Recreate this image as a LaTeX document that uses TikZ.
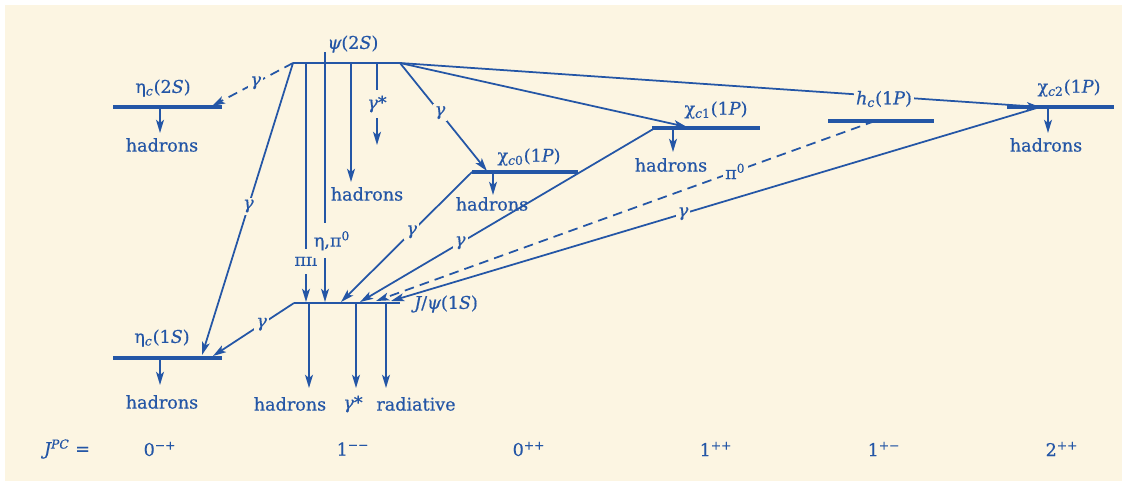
\documentclass[tikz,border=0pt]{standalone}
\usepackage{fontspec}
\setmainfont{DejaVu Serif}[FakeBold=0.5]
\usetikzlibrary{arrows.meta}
\definecolor{bg}{RGB}{252,245,226}
\definecolor{ink}{RGB}{36,86,166}
\newcommand\isub[1]{\textsubscript{#1}}
\newcommand\isup[1]{\textsuperscript{#1}}
\begin{document}
\begin{tikzpicture}[x=0.02cm,y=-0.02cm,
  every node/.style={text=ink, font=\fontsize{10}{12}\selectfont},
  lvl/.style={draw=ink, line width=1.9pt},
  conn/.style={draw=ink, line width=1pt, -{Stealth[length=7.5pt,width=4.5pt,inset=1.8pt]}},
  dsh/.style={conn, dash pattern=on 5.5pt off 3.5pt},
  lab/.style={fill=bg, inner sep=1.2pt},
]
\useasboundingbox (0,0) rectangle (1122,481);
\fill[white] (0,0) rectangle (1122,481);
\fill[bg] (5,5) rectangle (1122,481);

% level coordinates
\coordinate (e2L) at (113,107); \coordinate (e2R) at (222,107);
\coordinate (p2L) at (293,63);  \coordinate (p2R) at (400,63);
\coordinate (e1L) at (113,358); \coordinate (e1R) at (222,358);
\coordinate (jL) at (294,303);  \coordinate (jR) at (400,303);
\coordinate (c0L) at (472,172); \coordinate (c0R) at (578,172);
\coordinate (c1L) at (652,128); \coordinate (c1R) at (760,128);
\coordinate (hL) at (828,121);  \coordinate (hR) at (934,121);
\coordinate (c2L) at (1007,107);\coordinate (c2R) at (1114,107);

% levels
\draw[lvl] (e2L) -- (e2R);
\draw[lvl, line width=1.6pt] (p2L) -- (p2R);
\draw[lvl] (e1L) -- (e1R);
\draw[lvl, line width=1.6pt] (jL) -- (jR);
\draw[lvl] (c0L) -- (c0R);
\draw[lvl] (c1L) -- (c1R);
\draw[lvl] (hL) -- (hR);
\draw[lvl] (c2L) -- (c2R);

% connector end points
\coordinate (tE2) at (212,106);
\coordinate (tE1a) at (202,355);
\coordinate (tE1b) at (213,356);
\coordinate (tC0) at (487,171);
\coordinate (tC1) at (687,127);
\coordinate (tC2) at (1040,107);
\coordinate (sC1) at (655,128);
\coordinate (sH) at (875,121);
\coordinate (tJa) at (341,302);
\coordinate (tJb) at (360,302);
\coordinate (tJc) at (376,301);
\coordinate (tJd) at (391,301);
\coordinate (v1s) at (306,63);  \coordinate (v1e) at (306,302);
\coordinate (v2s) at (325,52);  \coordinate (v2e) at (325,302);
\coordinate (v3s) at (351,63);  \coordinate (v3e) at (351,182);
\coordinate (v4s) at (377,63);  \coordinate (v4e) at (377,145);

% transitions from psi(2S)
\draw[dsh] (p2L) -- node[lab,pos=0.46]{\itshape γ} (tE2);
\draw[conn] (p2L) -- node[lab,pos=0.49]{\itshape γ} (tE1a);
\draw[conn] (v1s) -- node[lab,pos=0.83,inner ysep=4.5pt]{ππ} (v1e);
\draw[conn] (v2s) -- node[lab,pos=0.755,inner ysep=4.5pt,xshift=4]{η,π\isup{0}} (v2e);
\draw[conn] (v3s) -- (v3e);
\draw[conn] (v4s) -- node[lab,pos=0.5,inner ysep=3pt]{\itshape γ*} (v4e);
\draw[conn] (p2R) -- node[lab,pos=0.46]{\itshape γ} (tC0);
\draw[conn] (p2R) -- (tC1);
\draw[conn] (p2R) -- (tC2);

% transitions into J/psi and eta_c(1S)
\draw[conn] (jL) -- node[lab,pos=0.4]{\itshape γ} (tE1b);
\draw[conn] (c0L) -- node[lab,pos=0.46]{\itshape γ} (tJa);
\draw[conn] (sC1) -- node[lab,pos=0.66]{\itshape γ} (tJb);
\draw[dsh] (sH) -- node[lab,pos=0.28]{π\isup{0}} (tJc);
\draw[conn] (tC2) -- node[lab,pos=0.55]{\itshape γ} (tJd);

% hadron decays
\coordinate (d1s) at (160,107); \coordinate (d1e) at (160,133);
\coordinate (d2s) at (160,358); \coordinate (d2e) at (160,385);
\coordinate (d3s) at (493,172); \coordinate (d3e) at (493,195);
\coordinate (d4s) at (673,128); \coordinate (d4e) at (673,152);
\coordinate (d5s) at (1048,107);\coordinate (d5e) at (1048,133);
\coordinate (j1s) at (309,303); \coordinate (j1e) at (309,388);
\coordinate (j2s) at (356,303); \coordinate (j2e) at (356,388);
\coordinate (j3s) at (386,303); \coordinate (j3e) at (386,388);
\draw[conn] (d1s) -- (d1e);
\draw[conn] (d2s) -- (d2e);
\draw[conn] (d3s) -- (d3e);
\draw[conn] (d4s) -- (d4e);
\draw[conn] (d5s) -- (d5e);
\draw[conn] (j1s) -- (j1e);
\draw[conn] (j2s) -- (j2e);
\draw[conn] (j3s) -- (j3e);

% state labels
\node (Lp2) at (353,44) {{\itshape ψ}(2{\itshape S})};
\node (Le2) at (163,88) {η\isub{\itshape c}(2{\itshape S})};
\node (Le1) at (162,338) {η\isub{\itshape c}(1{\itshape S})};
\node (Lc0) at (529,157) {χ\isub{{\itshape c}0}(1{\itshape P})};
\node (Lc1) at (716,110) {χ\isub{{\itshape c}1}(1{\itshape P})};
\node[fill=bg, inner sep=1pt] (Lh) at (884,99) {{\itshape h}\isub{\itshape c}(1{\itshape P})};
\node (Lc2) at (1069,88) {χ\isub{{\itshape c}2}(1{\itshape P})};
\node[anchor=west] (Lj) at (408,304) {{\itshape J}/{\itshape ψ}(1{\itshape S})};

% hadron labels
\node (h1) at (162,145) {hadrons};
\node (h2) at (162,402) {hadrons};
\node (h3) at (367,194) {hadrons};
\node (h4) at (492,204) {hadrons};
\node (h5) at (671,165) {hadrons};
\node (h6) at (1046,145) {hadrons};
\node (h7) at (290,404) {hadrons};
\node (h8) at (353,404) {\itshape γ*};
\node (h9) at (416,404) {radiative};

% quantum numbers
\node (jpc) at (67,449) {{\itshape J}\isup{\itshape PC} =};
\node (q1) at (160,449) {0\isup{−+}};
\node (q2) at (353,449) {1\isup{−−}};
\node (q3) at (529,449) {0\isup{++}};
\node (q4) at (716,449) {1\isup{++}};
\node (q5) at (884,449) {1\isup{+−}};
\node (q6) at (1062,449) {2\isup{++}};
\end{tikzpicture}
\end{document}
